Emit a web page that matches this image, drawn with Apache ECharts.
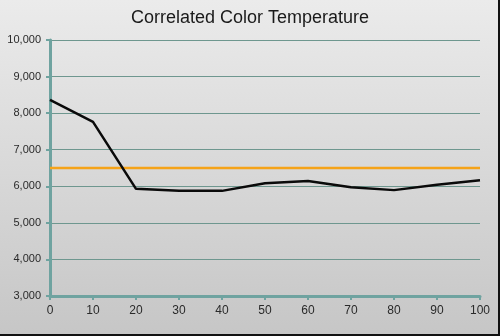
<!DOCTYPE html>
<html>
<head>
<meta charset="utf-8">
<script src="https://cdn.jsdelivr.net/npm/echarts@6/dist/echarts.min.js"></script>
<style>
html,body{margin:0;padding:0;background:#fff;}
#chart{width:500px;height:336px;}
</style>
</head>
<body>
<div id="chart"></div>
<script>
// Stimulus level (% IRE) on the x axis
const levels = [0, 10, 20, 30, 40, 50, 60, 70, 80, 90, 100];
// Measured correlated colour temperature (K)
const cct = [8360, 7760, 5930, 5875, 5875, 6085, 6145, 5975, 5895, 6040, 6165];
// D65 reference target (K)
const target = [6500, 6500, 6500, 6500, 6500, 6500, 6500, 6500, 6500, 6500, 6500];

const chart = echarts.init(document.getElementById('chart'));
const axisColor = '#6fa3a0';
const gridColor = '#6e978f';

chart.setOption({
  animation: false,
  backgroundColor: {
    type: 'linear', x: 0, y: 0, x2: 0, y2: 1,
    colorStops: [{offset: 0, color: '#ebebeb'}, {offset: 1, color: '#c6c6c6'}]
  },
  title: {
    text: 'Correlated Color Temperature',
    left: 'center', top: 4,
    textStyle: {fontFamily: 'Liberation Sans, Arial', fontSize: 18, fontWeight: 'normal', color: '#1a1a1a'}
  },
  grid: {left: 50, right: 20, top: 40, bottom: 40},
  xAxis: {
    type: 'value', min: 0, max: 100, interval: 10,
    axisLine: {lineStyle: {color: axisColor, width: 3}},
    axisTick: {show: true, inside: false, length: 4, lineStyle: {color: axisColor, width: 2}},
    axisLabel: {color: '#2a2a2a', fontFamily: 'Liberation Sans, Arial', fontSize: 12, margin: 9},
    splitLine: {show: false}
  },
  yAxis: {
    type: 'value', min: 3000, max: 10000, interval: 1000,
    axisLine: {show: true, lineStyle: {color: axisColor, width: 3}},
    axisTick: {show: true, length: 4, lineStyle: {color: axisColor, width: 2}},
    axisLabel: {
      color: '#2a2a2a', fontFamily: 'Liberation Sans, Arial', fontSize: 11, margin: 9,
      formatter: v => v.toLocaleString('en-US')
    },
    splitLine: {show: true, lineStyle: {color: gridColor, width: 1}}
  },
  series: [
    {
      type: 'line', data: levels.map((x, i) => [x, target[i]]),
      symbol: 'none', lineStyle: {color: '#f5a318', width: 2.5}, z: 2
    },
    {
      type: 'line', data: levels.map((x, i) => [x, cct[i]]),
      symbol: 'none', lineStyle: {color: '#0a0a0a', width: 2.5}, z: 3
    }
  ],
  graphic: [
    {type: 'rect', right: 0, top: 0, shape: {width: 2, height: 336}, style: {fill: '#111'}},
    {type: 'rect', left: 0, bottom: 0, shape: {width: 500, height: 2}, style: {fill: '#111'}}
  ]
});
</script>
</body>
</html>
